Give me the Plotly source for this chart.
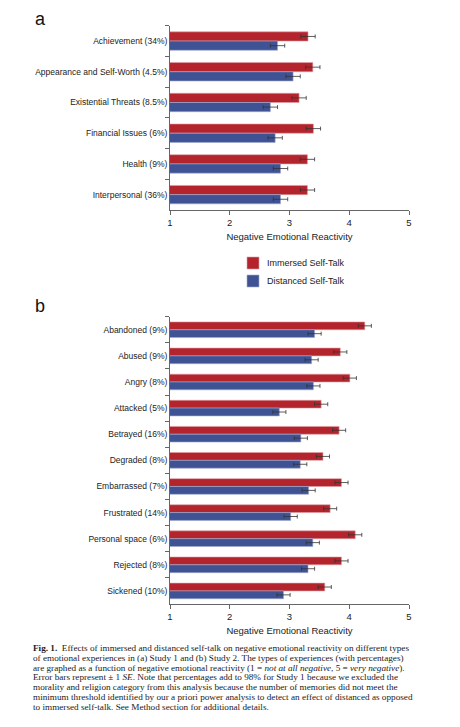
import plotly.graph_objects as go

# Study 1 (panel a)
cats_a = ["Achievement (34%)", "Appearance and Self-Worth (4.5%)", "Existential Threats (8.5%)",
          "Financial Issues (6%)", "Health (9%)", "Interpersonal (36%)"]
immersed_a = [3.31, 3.39, 3.16, 3.40, 3.30, 3.30]
distanced_a = [2.80, 3.06, 2.68, 2.76, 2.85, 2.85]
immersed_a_se = [0.12, 0.12, 0.12, 0.12, 0.12, 0.12]
distanced_a_se = [0.12, 0.12, 0.12, 0.12, 0.12, 0.12]

# Study 2 (panel b)
cats_b = ["Abandoned (9%)", "Abused (9%)", "Angry (8%)", "Attacked (5%)", "Betrayed (16%)",
          "Degraded (8%)", "Embarrassed (7%)", "Frustrated (14%)", "Personal space (6%)",
          "Rejected (8%)", "Sickened (10%)"]
immersed_b = [4.26, 3.85, 4.01, 3.53, 3.83, 3.56, 3.87, 3.68, 4.10, 3.87, 3.59]
distanced_b = [3.42, 3.37, 3.40, 2.83, 3.19, 3.18, 3.32, 3.02, 3.39, 3.31, 2.90]
immersed_b_se = [0.11, 0.11, 0.11, 0.11, 0.11, 0.11, 0.11, 0.11, 0.11, 0.11, 0.11]
distanced_b_se = [0.11, 0.11, 0.11, 0.11, 0.11, 0.11, 0.11, 0.11, 0.11, 0.11, 0.11]

series_names = ["Immersed Self-Talk", "Distanced Self-Talk"]

caption_lines = [
    "<b>Fig. 1.</b>  Effects of immersed and distanced self-talk on negative emotional reactivity on different types",
    "of emotional experiences in (a) Study 1 and (b) Study 2. The types of experiences (with percentages)",
    "are graphed as a function of negative emotional reactivity (1 = <i>not at all negative</i>, 5 = <i>very negative</i>).",
    "Error bars represent ± 1 <i>SE</i>. Note that percentages add to 98% for Study 1 because we excluded the",
    "morality and religion category from this analysis because the number of memories did not meet the",
    "minimum threshold identified by our a priori power analysis to detect an effect of distanced as opposed",
    "to immersed self-talk. See Method section for additional details.",
]

RED = "#b3242d"
BLUE = "#3f5293"
AXIS = "#666666"
FONT = "Liberation Sans, Arial, sans-serif"

fig = go.Figure()

def add_pair(cats, imm, imm_se, dist, dist_se, xa, ya):
    fig.add_trace(go.Bar(
        y=cats, x=imm, orientation="h", name=series_names[0],
        marker=dict(color=RED, line=dict(color="#e0a0a4", width=0.6)),
        error_x=dict(type="data", array=imm_se, color="#333333", thickness=0.8, width=2),
        xaxis=xa, yaxis=ya, showlegend=False))
    fig.add_trace(go.Bar(
        y=cats, x=dist, orientation="h", name=series_names[1],
        marker=dict(color=BLUE, line=dict(color="#a3acd0", width=0.6)),
        error_x=dict(type="data", array=dist_se, color="#333333", thickness=0.8, width=2),
        xaxis=xa, yaxis=ya, showlegend=False))

add_pair(cats_a, immersed_a, immersed_a_se, distanced_a, distanced_a_se, "x", "y")
add_pair(cats_b, immersed_b, immersed_b_se, distanced_b, distanced_b_se, "x2", "y2")

W, H = 460, 727
xdom = [170 / W, 409 / W]

xcommon = dict(range=[1, 5], tickvals=[1, 2, 3, 4, 5], showgrid=False, zeroline=False,
               showline=True, linecolor=AXIS, linewidth=1, ticks="outside", ticklen=4,
               tickcolor=AXIS, tickfont=dict(size=9.5, color="#222"), automargin=False,
               title=dict(text="Negative Emotional Reactivity", font=dict(size=9.5, color="#222"),
                          standoff=5))
ycommon = dict(type="category", autorange="reversed", showgrid=False, showline=True,
               linecolor=AXIS, linewidth=1, ticks="outside", ticklen=4, tickcolor=AXIS,
               tickson="boundaries", tickfont=dict(size=8.5, color="#222"), automargin=False)

fig.update_layout(
    width=W, height=H, margin=dict(l=0, r=0, t=0, b=0),
    paper_bgcolor="white", plot_bgcolor="white",
    font=dict(family=FONT, color="#222"),
    barmode="group", bargap=0.4, bargroupgap=0,
    xaxis=dict(domain=xdom, anchor="y", **xcommon),
    yaxis=dict(domain=[1 - 210 / H, 1 - 25.7 / H], anchor="x", **ycommon),
    xaxis2=dict(domain=xdom, anchor="y2", **xcommon),
    yaxis2=dict(domain=[1 - 604 / H, 1 - 316.7 / H], anchor="x2", **ycommon),
)

# legend drawn by hand to keep the tight swatch/label spacing
for i, (name, col, edge) in enumerate([(series_names[0], RED, "#e0a0a4"),
                                        (series_names[1], BLUE, "#a3acd0")]):
    top = 257 + 18 * i
    fig.add_shape(type="rect", xref="paper", yref="paper",
                  x0=247 / W, x1=259 / W, y0=1 - (top + 12) / H, y1=1 - top / H,
                  fillcolor=col, line=dict(color=edge, width=0.6))
    fig.add_annotation(text=name, x=265 / W, y=1 - (top + 6) / H, xref="paper", yref="paper",
                       showarrow=False, xanchor="left", yanchor="middle",
                       font=dict(size=9, family=FONT, color="#222"))

# panel letters
fig.add_annotation(text="a", x=33 / W, y=1 - 19 / H, xref="paper", yref="paper",
                   showarrow=False, xanchor="left", yanchor="middle",
                   font=dict(size=18, family=FONT, color="#111"))
fig.add_annotation(text="b", x=33 / W, y=1 - 306 / H, xref="paper", yref="paper",
                   showarrow=False, xanchor="left", yanchor="middle",
                   font=dict(size=18, family=FONT, color="#111"))

# caption, one annotation per line to keep the tight line spacing
for i, line in enumerate(caption_lines):
    fig.add_annotation(text=line, x=31 / W, y=1 - (648 + 9.8 * i) / H, xref="paper", yref="paper",
                       showarrow=False, xanchor="left", yanchor="middle", align="left",
                       font=dict(size=9.2, family="Liberation Serif, Times New Roman, serif",
                                 color="#222"))

# page body has a default 8px margin, drop it so the figure sits at the window edge
fig.write_html("out.html", config={"displayModeBar": False},
               post_script="document.body.style.margin='0';")
